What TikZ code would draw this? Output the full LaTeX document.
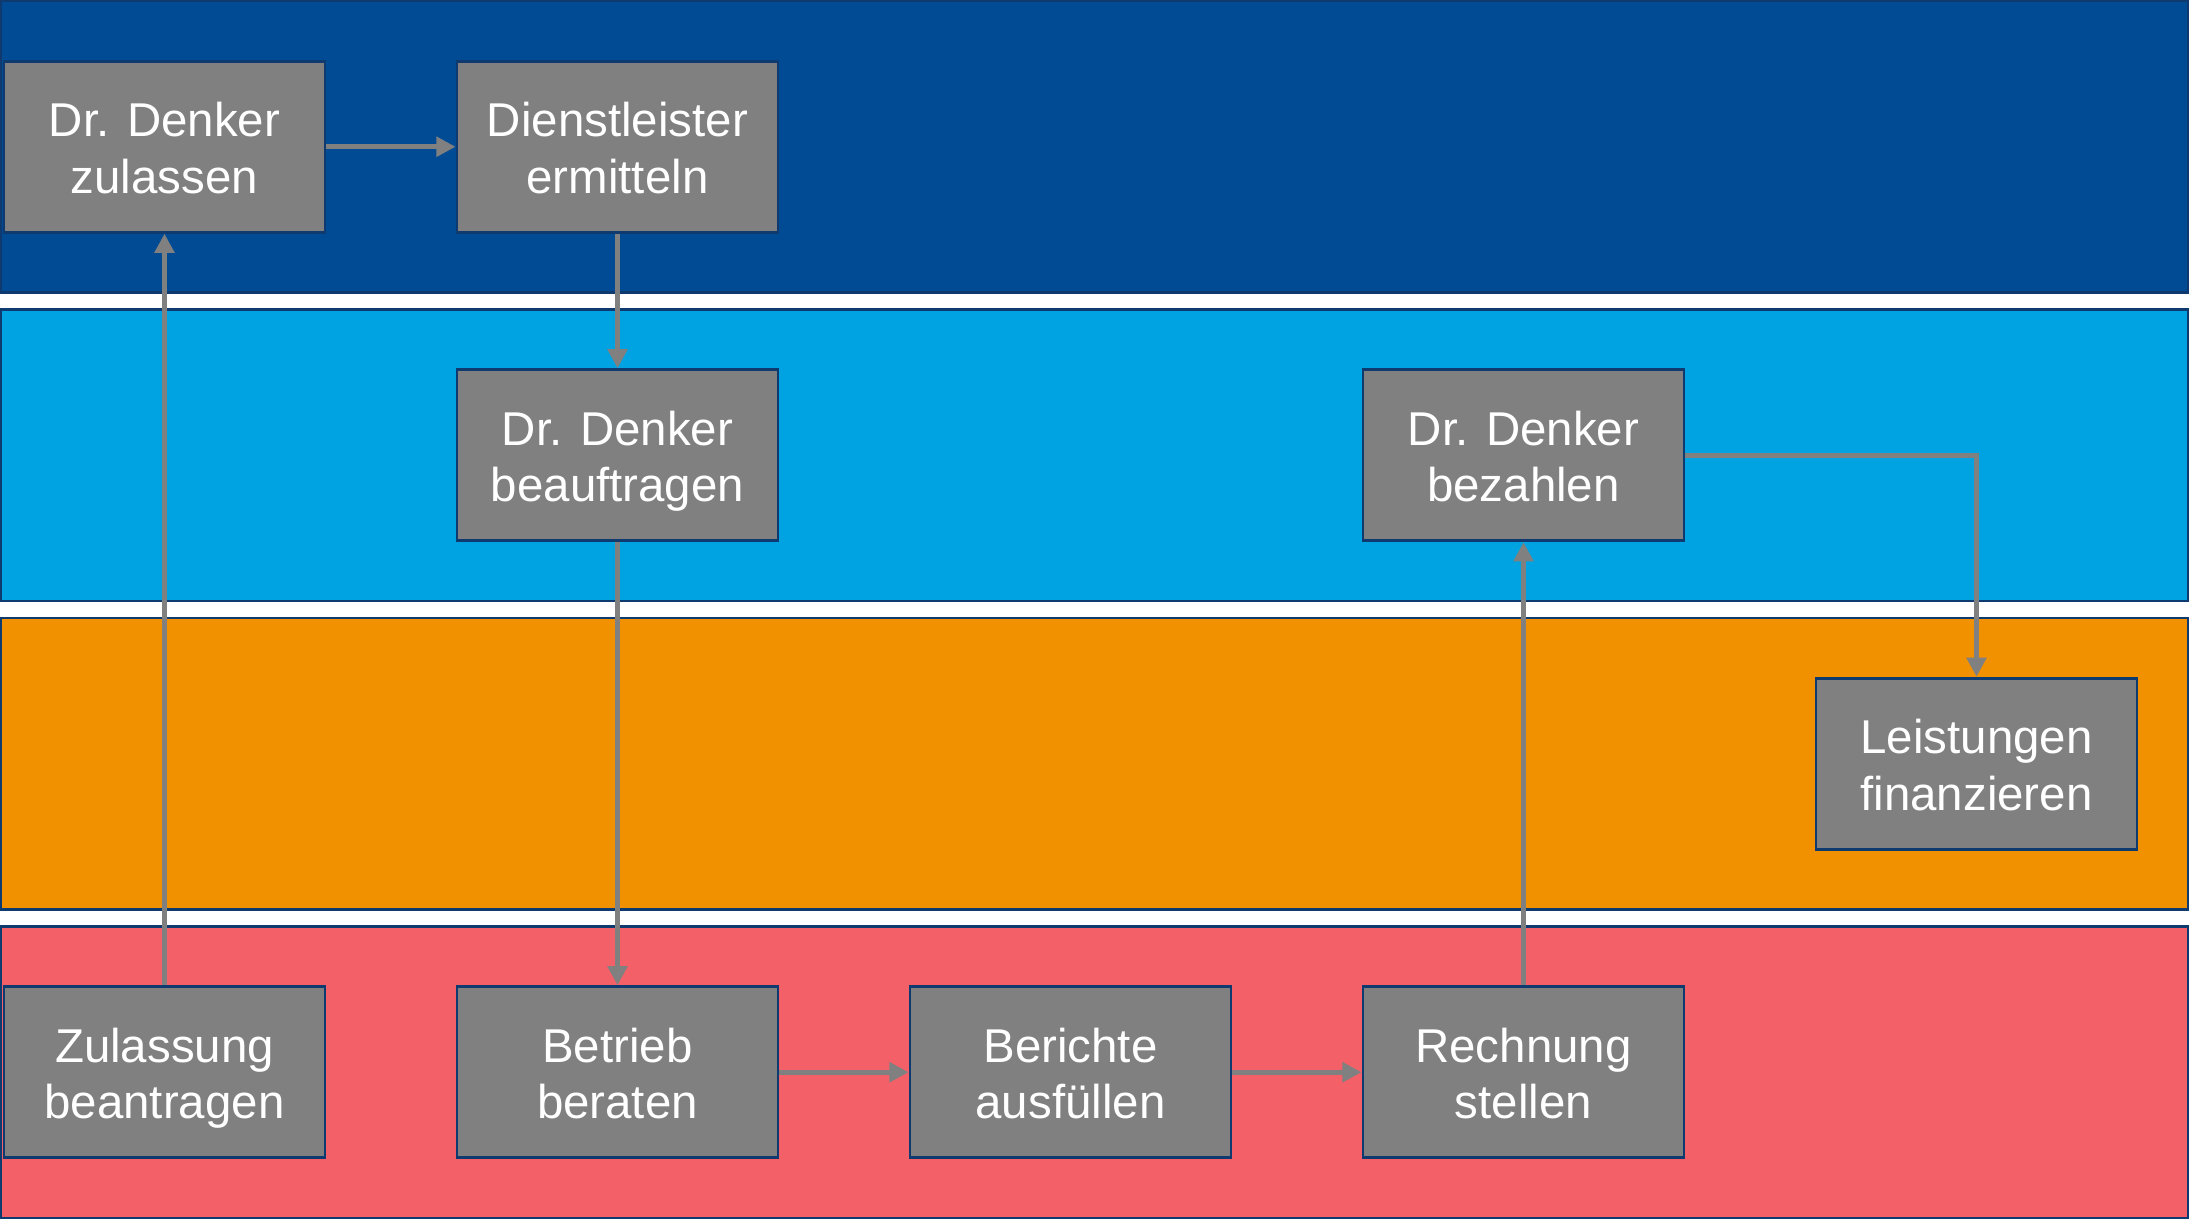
\documentclass[tikz,border=0pt]{standalone}
\usepackage{fontspec}
\setmainfont{Liberation Sans}
\usetikzlibrary{arrows.meta}
\definecolor{navy}{HTML}{0E3A6F}
\definecolor{laneblue}{HTML}{004B93}
\definecolor{lanesky}{HTML}{00A3E1}
\definecolor{laneorange}{HTML}{F29100}
\definecolor{lanered}{HTML}{F46068}
\definecolor{taskgray}{HTML}{808080}
\newcommand{\tasklabel}[2]{\rule{0pt}{15.3pt}#1\\#2\rule[-4.9pt]{0pt}{4.9pt}}
\begin{document}
\begin{tikzpicture}
        \tikzstyle{lane}=[draw=navy, line width=0.7pt]
        \tikzstyle{every node}=[fill=taskgray, draw=navy, line width=0.8pt, text=white, inner sep=0pt,
            minimum width=3.21cm, minimum height=1.71cm, align=center, font=\fontsize{13.5}{16.2}\selectfont]
        \tikzstyle{flow}=[draw=taskgray, line width=1.5pt, -{Triangle[length=5.5pt,width=5.5pt]}]
        \useasboundingbox (0,0) rectangle (21.9,-12.25);
        % swimlanes
        \foreach \i/\c in {0/laneblue, 1/lanesky, 2/laneorange, 3/lanered}
            \filldraw[lane, fill=\c] (0.01,-0.01-\i*3.085) rectangle ++(21.87,-2.915);
        % tasks
        \node (zulassen) at (1.645,-1.4675) {\tasklabel{Dr. Denker}{zulassen}};
        \node (ermitteln) at (6.175,-1.4675) {\tasklabel{Dienstleister}{ermitteln}};
        \node (beauftragen) at (6.175,-4.5525) {\tasklabel{Dr. Denker}{beauftragen}};
        \node (bezahlen) at (15.235,-4.5525) {\tasklabel{Dr. Denker}{bezahlen}};
        \node (finanzieren) at (19.765,-7.6375) {\tasklabel{Leistungen}{finanzieren}};
        \node (beantragen) at (1.645,-10.7225) {\tasklabel{Zulassung}{beantragen}};
        \node (beraten) at (6.175,-10.7225) {\tasklabel{Betrieb}{beraten}};
        \node (berichte) at (10.705,-10.7225) {\tasklabel{Berichte}{ausfüllen}};
        \node (rechnung) at (15.235,-10.7225) {\tasklabel{Rechnung}{stellen}};
        % flows
        \draw[flow] (zulassen) -- (ermitteln);
        \draw[flow] (ermitteln) -- (beauftragen);
        \draw[flow] (beantragen) -- (zulassen);
        \draw[flow] (beauftragen) -- (beraten);
        \draw[flow] (beraten) -- (berichte);
        \draw[flow] (berichte) -- (rechnung);
        \draw[flow] (rechnung) -- (bezahlen);
        \draw[flow] (bezahlen.east) -| (finanzieren.north);
    \end{tikzpicture}
\end{document}
